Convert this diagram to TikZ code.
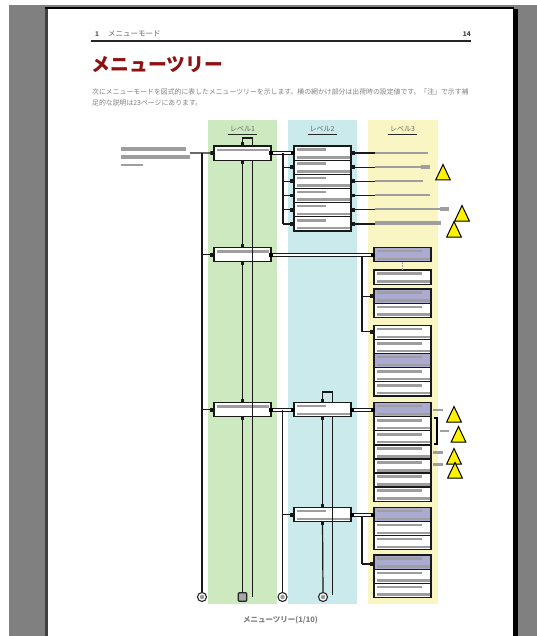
\documentclass[tikz,border=0pt]{standalone}
\usepackage{fontspec}
\setmainfont{Noto Sans CJK JP}
\usetikzlibrary{arrows.meta,calc}
\definecolor{bggray}{HTML}{808080}
\definecolor{cgreen}{HTML}{CDE9C0}
\definecolor{cblue}{HTML}{CBEAEC}
\definecolor{cyellow}{HTML}{F9F6C4}
\definecolor{cpurple}{HTML}{ABABD2}
\definecolor{cbar}{HTML}{9E9E9E}
\definecolor{ctitle}{HTML}{8E1212}
\definecolor{ctext}{HTML}{808080}
\tikzset{
  lvbox/.style={draw=black!90,line width=1.3pt,fill=white,minimum width=57pt,minimum height=14.2pt,inner sep=0pt,outer sep=0pt},
  purplebox/.style={lvbox,fill=cpurple},
  conn/.style={line width=1.2pt,draw=black!90},
  arr/.style={conn,-{Square[length=3.6pt,width=3.8pt]}},
  dbl/.style={line width=1pt,double=white,double distance=1.8pt,draw=black!90},
  dotm/.style={fill=black,inner sep=0pt,minimum size=4pt,draw=none},
  greybar/.style={fill=cbar,draw=none},
  tri/.style={fill=yellow,draw=black,line width=1pt,line join=miter},
  endmark/.style={circle,draw=black!85,line width=1.1pt,fill=white,minimum size=9pt,inner sep=0pt,
    path picture={\fill[black!40] (path picture bounding box.center) circle (2.2pt);}},
  endsq/.style={rectangle,rounded corners=1pt,draw=black!85,line width=1.1pt,fill=black!35,minimum size=8.5pt,inner sep=0pt},
  lvllabel/.style={text=black!60,font=\fontsize{7}{8}\selectfont,inner sep=0pt},
  ulabel/.style={line width=0.9pt,draw=black!85},
}
% box with two grey bars: name, centre x, top y, style, end of the upper bar
\newcommand{\menubox}[5]{%
  \node[#4] (#1) at (#2,#3+7.1) {};
  \fill[greybar] (#2-25.5,#3+2.3) rectangle (#2+#5,#3+4.9);
  \fill[greybar] (#2-25.5,#3+10) rectangle (#2+27.8,#3+12.6);
}
% level 1 box: one long bar
\newcommand{\topbox}[3]{%
  \node[lvbox] (#1) at (#2,#3+7.1) {};
  \fill[greybar] (#2-25.5,#3+2.6) rectangle (#2+26.5,#3+5.2);
}
\newcommand{\trianglemark}[3]{\draw[tri] (#1,#2) -- (#1+7.3,#3) -- (#1-7.3,#3) -- cycle;}
\begin{document}
\begin{tikzpicture}[x=1pt,y=-1pt]
\useasboundingbox (0,0) rectangle (537,636);
% page surround
\fill[bggray] (9,5) rectangle (537,636);
\fill[black!75] (45,7) rectangle (47.5,636);
\fill[black] (45,7) rectangle (514,9.5);
\fill[black] (513,9.5) rectangle (518,636);
\fill[white] (47.5,9.5) rectangle (513,636);
% header
\node[anchor=west,inner sep=0pt,text=black!65,font=\fontsize{6.5}{7}\selectfont\bfseries] (chapno) at (95,34) {1};
\node[anchor=west,inner sep=0pt,text=black!60,font=\fontsize{7.5}{8}\selectfont] (chap) at (108,34) {メニューモード};
\node[anchor=east,inner sep=0pt,text=black!75,font=\fontsize{6.5}{7}\selectfont\bfseries] (pageno) at (471,34) {14};
\coordinate (ruleL) at (91,41);
\coordinate (ruleR) at (471,41);
\draw[line width=1.1pt,black!85] (ruleL) -- (ruleR);
\node[anchor=west,inner sep=0pt,text=ctitle,font=\fontsize{18.8}{20}\selectfont\bfseries] (title) at (91.5,65) {メニューツリー};
\node[anchor=north west,inner sep=0pt,align=left,text=ctext,font=\fontsize{6.87}{11}\selectfont] (intro) at (92,88.5)
  {次にメニューモードを図式的に表したメニューツリーを示します。横の網かけ部分は出荷時の設定値です。「注」で示す補\\足的な説明は23ページにあります。};
% columns
\fill[cgreen] (208,120) rectangle (277,604);
\fill[cblue] (288,120) rectangle (357,604);
\fill[cyellow] (368,120) rectangle (438,604);
\node[lvllabel] (l1) at (242.5,129) {レベル1};
\node[lvllabel] (l2) at (322,129) {レベル2};
\node[lvllabel] (l3) at (402.5,129) {レベル3};
\draw[ulabel] (228,134) -- (257,134);
\draw[ulabel] (308,134) -- (337,134);
\draw[ulabel] (388,134) -- (417,134);
% left bars
\fill[greybar] (121,147.3) rectangle (186,150.7);
\fill[greybar] (121,155.3) rectangle (190,158.7);
\fill[greybar] (121,163.8) rectangle (143,166.2);
% end marks
\coordinate (freeIn) at (190,153);
\coordinate (endE) at (252.5,597);
\coordinate (endF) at (332.5,595);
\coordinate (jA1) at (202,153);
\coordinate (jA2) at (202,254.6);
\coordinate (jA3) at (202,409.6);
\coordinate (v3t) at (282.5,410);
\node[endmark] (endA) at (202,597) {};
\node[endsq] (endB) at (242.5,597) {};
\node[endmark] (endC) at (282.5,597) {};
\node[endmark] (endD) at (323,597) {};
% level 1
\topbox{a1}{242.5}{146}
\topbox{a2}{242.5}{247.5}
\topbox{a3}{242.5}{402.5}
% level 2 list
\foreach \i/\y in {1/146,2/160.2,3/174.3,4/188.5,5/202.6,6/216.8}{\menubox{b\i}{322.5}{\y}{lvbox}{3.5}}
\menubox{c1}{322.5}{402.5}{lvbox}{3}
\menubox{c2}{322.5}{507.5}{lvbox}{3}
% level 3 boxes
\foreach \n/\y/\s in {p1/247.5/purplebox,w1/270/lvbox,p2/289/purplebox,w2/303.2/lvbox,
  w3/325.5/lvbox,w4/339.7/lvbox,p3/353.5/purplebox,w5/367.7/lvbox,w6/381.7/lvbox,
  p4/402.5/purplebox,w7/416.7/lvbox,w8/430.7/lvbox,w9/444.9/lvbox,w10/459/lvbox,w11/473/lvbox,w12/487/lvbox,
  p5/507.5/purplebox,w13/521.5/lvbox,w14/535.5/lvbox,
  p6/555/purplebox,w15/569.2/lvbox,w16/583.4/lvbox}{\menubox{\n}{402.5}{\y}{\s}{19}}
% left trunk
\draw[conn] (endA.north) -- (jA1);
\draw[arr] (freeIn) -- (a1.west);
\draw[arr] (jA2) -- (a2.west);
\draw[arr] (jA3) -- (a3.west);
% vertical level 1 lines
\draw[arr] (a1.south) -- (a2.north);
\draw[arr] (a2.south) -- (a3.north);
\draw[arr] ($(a1.south)+(0,3)$) -- (a1.south);
\draw[arr] ($(a2.south)+(0,3)$) -- (a2.south);
\draw[arr] ($(a3.south)+(0,3)$) -- (a3.south);
\draw[conn] (a3.south) -- (endB.north);
\draw[conn] ($(a1.south)+(10,0)$) -- (endE);
% loop on a1
\draw[arr] (252.5,146) -- (252.5,138) -- (242.5,138) -- (a1.north);
% first fan
\draw[dbl] (a1.east) -- (b1.west);
\node[dotm] (da1) at (a1.east) {};
\node[dotm] (db1) at ($(b1.west)+(-1,0)$) {};
\coordinate (fanTop) at (283,153.1);
\coordinate (fanBot) at (283,223.9);
\draw[conn] (fanTop) -- (fanBot);
\foreach \i in {2,...,6}{\draw[arr] (fanTop |- b\i.west) -- (b\i.west);}
% right of list
\coordinate (xo) at (375,0);
\foreach \i in {1,...,6}{
  \draw[conn,{Square[length=3.6pt,width=3.8pt]}-] (b\i.east) -- (xo |- b\i.east);
}
\fill[greybar] (375,151.6) rectangle (428,154.4);
\fill[greybar] (375,165.6) rectangle (421,168.4);
\fill[greybar] (421,165.1) rectangle (430,168.9);
\fill[greybar] (375,179.6) rectangle (423,182.4);
\fill[greybar] (375,193.6) rectangle (430,196.4);
\fill[greybar] (375,207.6) rectangle (440,210.4);
\fill[greybar] (440,207.1) rectangle (449,210.9);
\fill[greybar] (375,221) rectangle (441,225);
% second level group
\draw[dbl] (a2.east) -- (p1.west);
\node[dotm] (da2) at (a2.east) {};
\node[dotm] (dp1) at ($(p1.west)+(-1,0)$) {};
\coordinate (v2t) at (362,256.6);
\coordinate (v2b) at (362,331.7);
\draw[conn] (v2t) -- (v2b);
\draw[arr] (v2t |- p2.west) -- (p2.west);
\draw[arr] (v2b) -- (374,331.7);
\draw[black!35,line width=0.5pt,densely dotted] (p1.south) -- (w1.north);
% third level group
\draw[dbl] (a3.east) -- (c1.west);
\node[dotm] (da3) at (a3.east) {};
\node[dotm] (dc1) at ($(c1.west)+(-1,0)$) {};
\draw[dbl] (c1.east) -- (p4.west);
\node[dotm] (dc1e) at ($(c1.east)+(1,0)$) {};
\node[dotm] (dp4) at ($(p4.west)+(-1,0)$) {};
\draw[conn] (v3t) -- (endC.north);
\draw[arr] (v3t |- c2.west) -- (c2.west);
% c1 verticals
\draw[arr] (332.5,402.5) -- (332.5,392) -- (322.5,392) -- (c1.north);
\draw[arr] (c1.south) -- (c2.north);
\draw[arr] ($(c1.south)+(0,3)$) -- (c1.south);
\draw[arr] ($(c2.south)+(0,3)$) -- (c2.south);
\draw[conn] (c2.south) -- (endD.north);
\draw[conn] ($(c1.south)+(10,0)$) -- (endF);
% c2 to level 3
\draw[dbl] (c2.east) -- (p5.west);
\node[dotm] (dc2e) at ($(c2.east)+(1,0)$) {};
\node[dotm] (dp5) at ($(p5.west)+(-1,0)$) {};
\coordinate (v4t) at (362,515.8);
\coordinate (v4b) at (362,564);
\draw[conn] (v4t) -- (v4b);
\draw[arr] (v4b) -- (374,564);
% note marks
\fill[greybar] (433,408.7) rectangle (443,411.3);
\fill[greybar] (440,429.7) rectangle (449,432.3);
\fill[greybar] (433,450.5) rectangle (443,453.5);
\fill[greybar] (433,462.5) rectangle (443,465.5);
\draw[line width=1.1pt,black] (434,418) -- (437,418) -- (437,444) -- (434,444);
% triangles
\trianglemark{443}{164.5}{180}
\trianglemark{462}{205.5}{221}
\trianglemark{454}{221.5}{237}
\trianglemark{454}{406.5}{422}
\trianglemark{458.5}{426.5}{442}
\trianglemark{454}{448.5}{464}
\trianglemark{455}{462.5}{478}
% caption
\node[inner sep=0pt,text=ctext,font=\fontsize{7.5}{8}\selectfont\bfseries] (cap) at (280.5,620.5) {メニューツリー(1/10)};
\end{tikzpicture}
\end{document}
